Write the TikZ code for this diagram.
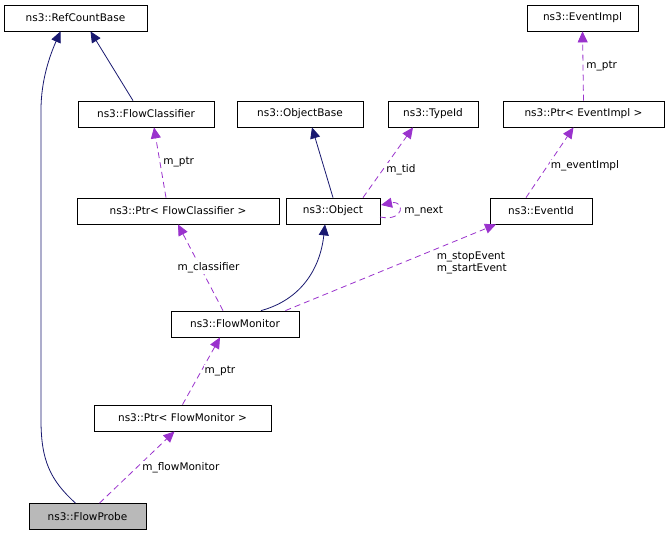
\documentclass[tikz,border=0pt]{standalone}
\usepackage{fontspec}
\setmainfont{DejaVu Sans}
\usetikzlibrary{arrows.meta}
\definecolor{navy}{HTML}{191970}
\definecolor{orchid}{HTML}{9A32CD}
\begin{document}
\begin{tikzpicture}[x=1pt,y=-1pt,
  box/.style={draw,thick,rectangle,minimum height=26pt,inner xsep=4pt,font=\fontsize{10.5}{12}\selectfont},
  inh/.style={draw=navy,thick,-{Triangle[length=11pt,width=10pt]}},
  use/.style={draw=orchid,thick,dash pattern=on 6pt off 4pt,-{Triangle[length=11pt,width=10pt]}},
  lab/.style={font=\fontsize{10.5}{12}\selectfont,fill=white,inner sep=1pt}]
\useasboundingbox (0,0) rectangle (671,536);
\fill[white] (0,0) rectangle (671,536);
\node[box,minimum width=143pt] (rcb) at (75.5,18) {ns3::RefCountBase};
\node[box,minimum width=111pt] (ei) at (582.5,18) {ns3::EventImpl};
\node[box,minimum width=136pt] (fc) at (146,114) {ns3::FlowClassifier};
\node[box,minimum width=126pt] (ob) at (300,114) {ns3::ObjectBase};
\node[box,minimum width=90pt] (tid) at (433,114) {ns3::TypeId};
\node[box,minimum width=161pt] (pei) at (583.5,114) {ns3::Ptr< EventImpl >};
\node[box,minimum width=202pt] (pfc) at (178,211) {ns3::Ptr< FlowClassifier >};
\node[box,minimum width=94pt] (obj) at (333,211) {ns3::Object};
\node[box,minimum width=102pt] (eid) at (541,211) {ns3::EventId};
\node[box,minimum width=128pt] (fm) at (235,324) {ns3::FlowMonitor};
\node[box,minimum width=177pt] (pfm) at (182.5,418) {ns3::Ptr< FlowMonitor >};
\node[box,minimum width=117pt,fill=gray!55] (fp) at (87.5,516.5) {ns3::FlowProbe};
\coordinate (loopA) at (380,217);
\coordinate (loopB) at (381,205);
% inheritance
\draw[inh] ([xshift=-12pt]fp.north) .. controls (50,480) and (41,460) .. (41,420) -- (41,110) .. controls (41,80) and (50,55) .. ([xshift=-15pt]rcb.south);
\draw[inh] ([xshift=-13pt]fc.north) -- ([xshift=15pt]rcb.south);
\draw[inh] (obj.north) -- ([xshift=12pt]ob.south);
\draw[inh] ([xshift=26pt]fm.north) .. controls (300,300) and (320,270) .. ([xshift=-8pt]obj.south);
% usage
\draw[use] ([xshift=12pt]fp.north) -- node[lab,right=4pt,pos=0.5] {m\_flowMonitor} ([xshift=-8pt]pfm.south);
\draw[use] (pfm.north) -- node[lab,right=2pt] {m\_ptr} ([xshift=-15pt]fm.south);
\draw[use] ([xshift=-12pt]fm.north) -- node[lab,pos=0.5,xshift=8pt] {m\_classifier} (pfc.south);
\draw[use] ([xshift=-12pt]pfc.north) -- node[lab,right=2pt] {m\_ptr} ([xshift=8pt]fc.south);
\draw[use] ([xshift=30pt]obj.north) -- node[lab,right=2pt,pos=0.4] {m\_tid} ([xshift=-20pt]tid.south);
\draw[use] (loopA) .. controls (405,222) and (405,200) .. (loopB) node[lab,pos=0.5,right=4pt] {m\_next};
\draw[use] ([xshift=-14pt]fm.north east) -- node[lab,pos=0.75,below right=2pt,align=left,xshift=-10pt,yshift=-2pt] {m\_stopEvent\\m\_startEvent} ([xshift=-45pt]eid.south);
\draw[use] ([xshift=-15pt]eid.north) -- node[lab,right=2pt,pos=0.45] {m\_eventImpl} ([xshift=-10pt]pei.south);
\draw[use] (pei.north) -- node[lab,right=2pt] {m\_ptr} (ei.south);
\end{tikzpicture}
\end{document}
